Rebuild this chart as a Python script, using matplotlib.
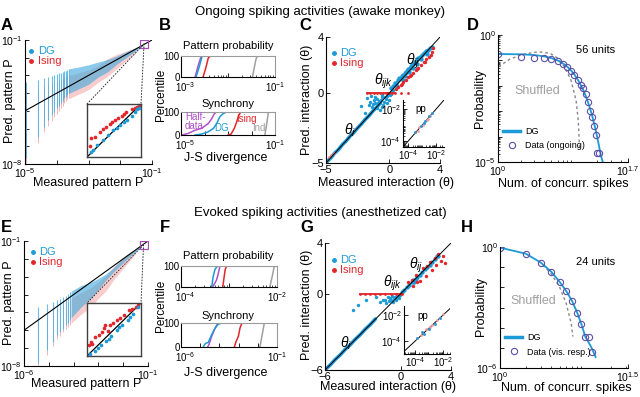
import numpy as np
import matplotlib
matplotlib.use('Agg')
import matplotlib.pyplot as plt
import matplotlib.transforms as mtransforms
from matplotlib.ticker import LogLocator, NullFormatter
from matplotlib.patches import ConnectionPatch

plt.rcParams['font.family'] = ['Liberation Sans', 'DejaVu Sans']
plt.rcParams['mathtext.default'] = 'regular'
plt.rcParams['xtick.direction'] = 'in'
plt.rcParams['ytick.direction'] = 'in'
plt.rcParams['axes.linewidth'] = 0.8

# colours
BLUE = '#1C9AD6'
RED = '#E3262B'
PURPLE = '#B150CA'
GREY = '#A0A0A0'
CIRC = '#5A50A8'
SQ = '#A64CB0'

# ---------------- A (ongoing, log10 values) ----------------
a_streak_x = [-4.98, -4.58, -4.40, -4.27, -4.16, -4.08, -4.00, -3.93, -3.87, -3.81, -3.76, -3.71, -3.67, -3.62]
a_streak_top = [-3.35, -3.26, -3.16, -3.07, -3.03, -2.98, -2.94, -2.88, -2.84, -2.81, -2.77, -2.73, -2.69, -2.65]
a_streak_bot = [-7.68, -6.46, -5.89, -5.52, -5.23, -5.05, -4.86, -4.73, -4.58, -4.43, -4.29, -4.20, -4.10, -4.01]
a_ising_top = [-3.9, -3.8, -3.6, -3.5, -3.4, -3.35, -3.3, -3.25, -3.2, -3.15, -3.1, -3.05, -3.0, -2.95]
a_ising_bot = [-7.95, -6.8, -6.2, -5.85, -5.55, -5.35, -5.15, -5.0, -4.85, -4.7, -4.55, -4.45, -4.35, -4.25]
a_cloud_x = [-3.6, -3.3, -3.0, -2.7, -2.4, -2.1, -1.8, -1.5, -1.3]
a_cloud_up = [-2.62, -2.52, -2.4, -2.25, -2.1, -1.9, -1.65, -1.42, -1.27]
a_cloud_lo = [-4.0, -3.75, -3.5, -3.1, -2.8, -2.35, -1.98, -1.6, -1.35]
a_icloud_x = [-3.6, -3.3, -3.0, -2.7, -2.4, -2.1, -1.8, -1.5]
a_icloud_up = [-3.0, -2.85, -2.7, -2.45, -2.05, -1.8, -1.62, -1.42]
a_icloud_lo = [-4.3, -4.05, -3.8, -3.4, -3.05, -2.6, -2.15, -1.7]
a_sq = (-1.25, -1.22)
# inset (normalised coordinates of zoomed region)
a_in_dg_x = [0.08, 0.18, 0.30, 0.39, 0.49, 0.61, 0.74, 0.83, 0.89, 0.96, 0.12, 0.55, 0.68, 0.93]
a_in_dg_y = [0.10, 0.23, 0.32, 0.41, 0.51, 0.60, 0.69, 0.78, 0.85, 0.93, 0.14, 0.55, 0.66, 0.90]
a_in_is_x = [0.05, 0.08, 0.14, 0.24, 0.35, 0.43, 0.51, 0.58, 0.64, 0.73, 0.83, 0.93, 0.98, 0.30, 0.47, 0.69, 0.88]
a_in_is_y = [0.20, 0.35, 0.38, 0.48, 0.57, 0.63, 0.69, 0.74, 0.78, 0.85, 0.91, 0.95, 0.99, 0.52, 0.66, 0.81, 0.93]

# ---------------- E (evoked, log10 values) ----------------
e_streak_x = [-5.45, -5.06, -4.83, -4.66, -4.53, -4.41, -4.32, -4.24, -4.16]
e_streak_top = [-4.71, -4.52, -4.43, -4.33, -4.24, -4.15, -4.06, -3.96, -3.87]
e_streak_bot = [-7.85, -7.11, -6.65, -6.28, -6.09, -5.91, -5.72, -5.57, -5.44]
e_ising_top = [-5.4, -5.1, -4.9, -4.8, -4.7, -4.6, -4.5, -4.4, -4.3]
e_ising_bot = [-8.0, -7.4, -6.9, -6.5, -6.3, -6.1, -5.95, -5.8, -5.7]
e_cloud_x = [-4.1, -3.7, -3.3, -3.0, -2.7, -2.4, -2.1, -1.8, -1.5, -1.3]
e_cloud_up = [-3.8, -3.5, -3.3, -3.1, -2.85, -2.5, -2.1, -1.75, -1.45, -1.27]
e_cloud_lo = [-5.3, -4.7, -4.2, -3.7, -3.2, -2.75, -2.35, -1.95, -1.6, -1.35]
e_icloud_x = [-4.1, -3.7, -3.3, -3.0, -2.7, -2.4, -2.1, -1.8, -1.5]
e_icloud_up = [-4.2, -3.9, -3.6, -3.3, -2.95, -2.45, -2.0, -1.7, -1.45]
e_icloud_lo = [-5.6, -5.1, -4.7, -4.2, -3.8, -3.2, -2.7, -2.2, -1.7]
e_sq = (-1.18, -1.22)
e_in_dg_x = [0.05, 0.15, 0.25, 0.35, 0.45, 0.55, 0.65, 0.75, 0.85, 0.95, 0.20, 0.40, 0.60, 0.80]
e_in_dg_y = [0.03, 0.10, 0.20, 0.28, 0.38, 0.50, 0.58, 0.68, 0.80, 0.92, 0.15, 0.33, 0.54, 0.74]
e_in_is_x = [0.03, 0.07, 0.15, 0.22, 0.28, 0.34, 0.38, 0.43, 0.49, 0.56, 0.62, 0.69, 0.77, 0.83, 0.90, 0.94, 0.10, 0.31]
e_in_is_y = [0.20, 0.26, 0.36, 0.39, 0.45, 0.58, 0.48, 0.59, 0.63, 0.67, 0.72, 0.77, 0.86, 0.89, 0.92, 0.97, 0.22, 0.52]

# ---------------- B / F: J-S divergence CDFs (log10 x, percentile y) ----------------
b_top = {
    'half': ([-2.70, -2.64, -2.57], [0, 50, 100]),
    'dg': ([-2.68, -2.61, -2.55], [0, 50, 100]),
    'ising': ([-2.53, -2.47, -2.42, -2.38], [0, 45, 90, 100]),
    'ind': ([-1.48, -1.41, -1.38], [0, 80, 100]),
}
b_bot = {
    'half': ([-4.97, -4.69, -4.40, -4.12, -3.84, -3.69, -3.58, -3.48], [0, 7, 21, 29, 50, 71, 93, 100]),
    'dg': ([-4.40, -4.12, -3.84, -3.62, -3.48, -3.35, -3.21, -3.06], [0, 4, 14, 29, 50, 79, 93, 100]),
    'ising': ([-2.99, -2.87, -2.73, -2.63, -2.56, -2.46], [0, 4, 29, 57, 81, 100]),
    'ind': ([-1.43, -1.35, -1.28], [0, 50, 100]),
}
f_top = {
    'dg': ([-3.36, -3.33, -3.29, -3.24, -3.19], [0, 50, 85, 100, 100]),
    'half': ([-3.34, -3.26, -3.22, -3.19, -3.17], [0, 33, 67, 100, 100]),
    'ising': ([-3.13, -3.10, -3.08, -3.05], [0, 50, 83, 100]),
    'ind': ([-2.15, -2.10, -2.06, -2.04], [0, 50, 95, 100]),
}
f_bot = {
    'dg': ([-4.84, -4.75, -4.66, -4.58, -4.40, -4.23, -4.06, -3.88, -3.71], [0, 13, 17, 19, 52, 78, 95, 100, 100]),
    'half': ([-4.61, -4.53, -4.40, -4.23, -4.11, -3.97], [0, 13, 45, 78, 95, 100]),
    'ising': ([-3.22, -3.15, -3.01, -2.93, -2.84, -2.81], [0, 19, 45, 78, 97, 100]),
    'ind': ([-1.89, -1.77, -1.66], [0, 52, 100]),
}

# ---------------- C (ongoing interactions) ----------------
c_i_x = [-4.95, -4.6, -4.3, -4.0, -3.7, -3.4, -3.1, -2.8, -2.5, -2.2, -1.9, -1.6, -1.3, -1.0, -0.7]
c_i_y = [-4.93, -4.62, -4.28, -4.03, -3.68, -3.42, -3.08, -2.82, -2.49, -2.21, -1.88, -1.62, -1.29, -1.02, -0.69]
c_i_is_x = [-4.8, -4.6, -4.4]
c_i_is_y = [-4.6, -4.45, -4.25]
c_ijk_x = [-1.73, -1.61, -1.49, -1.42, -1.37, -1.25, -1.13, -1.01, -0.89, -0.77, -0.70, -0.66, -0.61, -0.54, -0.42,
           -0.37, -0.30, -0.18, -0.08, -0.06, 0.06, 0.18, 0.30, -1.3, -0.95, -0.5, -0.25, -0.8, -1.1, -0.6, -0.15, 0.1,
           -2.2, -1.9]
c_ijk_y = [-0.38, -0.85, -0.62, -0.22, -0.97, -0.50, -0.26, -1.09, -0.74, -1.21, -0.69, -0.50, -0.14, -0.97, -0.62,
           -0.31, -0.26, -0.74, -0.03, -0.50, -0.14, 0.09, 0.21, -0.8, -0.4, -0.85, -0.45, -0.6, -0.7, -0.3, -0.2, -0.05,
           -0.9, -1.4]
c_ijk_is_x = [-1.75, -1.5, -1.25, -1.0, -0.75, -0.5, -0.25, 0.0, 0.2, 0.45]
c_ijk_is_y = [0, 0, 0, 0, 0, 0, 0, 0, 0, 0]
c_ijk_is_far_x = [0.9, 1.5]
c_ijk_is_far_y = [0, 0]
c_ij_x = [0.15, 0.3, 0.45, 0.55, 0.7, 0.8, 0.9, 1.0, 1.1, 1.2, 1.3, 1.4, 1.5, 1.6, 1.7, 1.8, 1.9, 2.0, 2.1, 2.2,
          2.3, 2.45, 2.6, 2.75, 2.9, 3.05, 3.2, 3.35, 1.25, 1.55, 1.85, 2.15, 0.6, 1.05, 2.5, 2.95]
c_ij_y = [0.35, 0.5, 0.7, 0.75, 0.95, 1.05, 1.1, 1.25, 1.3, 1.45, 1.5, 1.6, 1.75, 1.8, 1.95, 2.0, 2.1, 2.25, 2.3, 2.4,
          2.5, 2.6, 2.75, 2.85, 3.0, 3.1, 3.2, 3.3, 1.2, 1.5, 1.8, 2.05, 0.5, 0.95, 2.45, 2.8]
c_ij_is_x = [0.5, 0.7, 0.9, 1.1, 1.3, 1.5, 1.7, 1.9, 2.1, 2.3, 2.5, 2.7, 2.9, 3.1, 3.3, 3.4, 1.0, 1.6, 2.2, 2.8, 3.45]
c_ij_is_y = [0.3, 0.45, 0.6, 0.8, 0.95, 1.15, 1.3, 1.45, 1.65, 1.8, 2.0, 2.2, 2.4, 2.55, 2.75, 2.9, 0.65, 1.2, 1.7, 2.25, 3.2]
c_pp_x = [-3.5, -3.3, -3.1, -2.95, -2.8, -2.65, -2.5, -2.4, -2.3, -3.2, -2.9, -2.6]
c_pp_y = [-3.45, -3.35, -3.05, -3.0, -2.75, -2.7, -2.45, -2.45, -2.25, -3.15, -2.85, -2.6]

# ---------------- G (evoked interactions) ----------------
g_i_x = [-5.95, -5.6, -5.2, -4.8, -4.4, -4.0, -3.6, -3.2, -2.8, -2.4, -2.0]
g_i_y = [-5.93, -5.62, -5.18, -4.82, -4.38, -4.02, -3.58, -3.22, -2.78, -2.42, -1.98]
g_ijk_x = [-0.47, -0.34, -0.61, -0.21, -0.87, -1.13, -1.39, -1.66, -1.92, -0.08, -0.74, -1.0, -3.76, -3.37, -2.71,
           -0.4, -0.3, -0.55, -0.15, -0.9, -1.2, -0.65]
g_ijk_y = [-0.24, -0.50, -0.63, -0.19, -0.37, -0.76, -0.45, -0.63, -0.29, -0.08, -0.50, -0.24, -1.24, -0.9, -0.5,
           -0.4, -0.15, -0.35, -0.3, -0.6, -0.5, -0.2]
g_ijk_is_x = [-3.2, -2.8, -2.4, -2.0, -1.6, -1.2, -0.8, -0.4, 0.0, 0.1]
g_ijk_is_y = [0, 0, 0, 0, 0, 0, 0, 0, 0, 0]
g_ij_x = [0.1, 0.3, 0.5, 0.7, 0.9, 1.0, 1.1, 1.2, 1.3, 1.5, 1.7, 1.9, 2.1, 2.3, 2.5, 2.7, 2.9, 3.0, 1.05, 1.15]
g_ij_y = [0.15, 0.3, 0.55, 0.7, 0.95, 1.05, 1.0, 1.2, 1.3, 1.45, 1.7, 1.95, 2.1, 2.25, 2.5, 2.75, 2.95, 3.0, 0.95, 1.1]
g_ij_is_x = [0.6, 1.0, 1.2, 1.5, 1.8, 2.0, 2.3, 2.5, 2.8, 3.0, 3.2, 3.5, 1.3, 2.1, 2.7, 3.4, 0.9]
g_ij_is_y = [0.9, 0.6, 1.5, 1.0, 2.0, 1.4, 2.5, 1.9, 2.3, 3.1, 2.6, 2.4, 0.9, 2.2, 2.8, 3.0, 1.1]
g_pp_x = [-3.9, -3.6, -3.4, -3.2, -3.0, -2.8, -2.6, -2.4, -2.2, -2.0, -3.5, -2.9]
g_pp_y = [-3.75, -3.55, -3.45, -3.1, -3.05, -2.75, -2.65, -2.35, -2.2, -1.95, -3.3, -2.95]

# ---------------- D / H: synchrony distributions (log10 probability) ----------------
d_k = [1, 2, 3, 4, 5, 6, 7, 8, 9, 10, 11, 12, 13, 14, 15, 16, 17, 18, 19, 20, 21]
d_data = [-0.75, -0.855, -0.895, -0.92, -0.95, -1.04, -1.13, -1.25, -1.41, -1.58, -1.78, -1.95, -2.1, -2.33,
          -2.63, -2.99, -3.22, -3.59, -3.95, -4.65, -4.65]
d_dg_k = [1, 2, 3, 4, 5, 6, 7, 8, 9, 10, 11, 12, 13, 14, 15, 16, 17, 18, 19, 20, 21, 22, 23.4]
d_dg = [-0.75, -0.76, -0.79, -0.84, -0.91, -1.0, -1.11, -1.24, -1.39, -1.56, -1.75, -1.95, -2.16, -2.39,
        -2.64, -2.9, -3.17, -3.46, -3.76, -4.07, -4.39, -4.7, -5.0]
d_shuf_k = [1.02, 1.41, 2.08, 3.4, 4.79, 6.1, 7.4, 9.0, 10.5, 11.2, 11.7]
d_shuf = [-1.25, -0.96, -0.76, -0.66, -0.72, -0.92, -1.25, -1.78, -2.57, -3.36, -4.54]

h_k = [1, 2, 3, 4, 5, 6, 7, 8, 9, 10, 11, 12]
h_data = [-0.03, -0.33, -0.77, -1.23, -1.73, -2.19, -2.68, -3.26, -3.83, -4.47, -4.47, -5.23]
h_dg_k = [1, 2, 3, 4, 5, 6, 7, 8, 9, 10, 11, 12, 13.2]
h_dg = [-0.03, -0.33, -0.77, -1.23, -1.73, -2.19, -2.68, -3.24, -3.83, -4.45, -4.75, -5.05, -5.46]
h_shuf_k = [3.17, 3.97, 4.98, 5.97, 6.83, 7.14]
h_shuf = [-0.9, -1.32, -1.97, -2.8, -3.78, -4.44]

# ================= figure =================
W, H = 640, 397
fig = plt.figure(figsize=(6.4, 3.97), dpi=100)
TFS = 7.5  # tick label size


def box(l, t, r, b):
    return fig.add_axes([l / W, 1 - b / H, (r - l) / W, (b - t) / H])


def txt(x, y, s, **kw):
    kw.setdefault('ha', 'center')
    kw.setdefault('va', 'center')
    kw.setdefault('fontsize', 9)
    fig.text(x / W, 1 - y / H, s, **kw)


def p10(v):
    return 10 ** np.asarray(v, dtype=float)


def log_ticks(axis, lo, hi, labels):
    dec = list(range(lo, hi + 1))
    axis.set_ticks([10.0 ** d for d in dec])
    axis.set_ticklabels(labels)
    axis.set_minor_locator(LogLocator(base=10, subs=np.arange(2, 10)))
    axis.set_minor_formatter(NullFormatter())


def style(ax, fs=TFS):
    ax.tick_params(which='major', length=3, width=0.6, labelsize=fs, pad=1.5)
    ax.tick_params(which='minor', length=1.6, width=0.5)


def pattern_panel(ax, xlo, sx, stop, sbot, itop, ibot, cx, cu, cl, ix, iu, il, sq):
    ax.set_xscale('log')
    ax.set_yscale('log')
    ax.vlines(p10(sx), p10(ibot), p10(itop), color='#F4A3A6', lw=0.7, alpha=0.8)
    ax.vlines(p10(sx), p10(sbot), p10(stop), color='#48AEDF', lw=0.8, alpha=0.8)
    ax.fill_between(p10(ix), p10(il), p10(iu), color='#F08E92', alpha=0.45, lw=0)
    ax.fill_between(p10(cx), p10(cl), p10(cu), color='#3EA8DC', alpha=0.6, lw=0)
    ax.plot([10.0 ** xlo, 0.1], [10.0 ** xlo, 0.1], color='k', lw=0.8)
    ax.plot([10.0 ** sq[0]], [10.0 ** sq[1]], marker='s', ms=5.5, mfc='none', mec=SQ, mew=0.9)
    ax.set_xlim(10.0 ** xlo, 0.1)
    ax.set_ylim(1e-8, 0.1)
    log_ticks(ax.xaxis, xlo, -1, ['$10^{%d}$' % xlo] + [''] * (-1 - xlo - 1) + ['$10^{-1}$'])
    log_ticks(ax.yaxis, -8, -1, ['$10^{-8}$'] + [''] * 6 + ['$10^{-1}$'])
    ax.spines['top'].set_visible(False)
    ax.spines['right'].set_visible(False)
    style(ax)


def pattern_inset(axin, ax_main, sq, dx, dy, ix, iy):
    axin.set_xlim(0, 1)
    axin.set_ylim(0, 1)
    axin.set_xticks([])
    axin.set_yticks([])
    for s in axin.spines.values():
        s.set_color('#404040')
        s.set_linewidth(1.0)
    axin.plot([0, 1], [0, 1], color='k', lw=0.9, zorder=1)
    axin.scatter(ix, iy, s=7, color=RED, lw=0, zorder=2)
    axin.scatter(dx, dy, s=7, color=BLUE, lw=0, zorder=3)
    for xa in (0, 1):
        con = ConnectionPatch(xyA=(10.0 ** sq[0], 10.0 ** sq[1]), coordsA=ax_main.transData,
                              xyB=(xa, 1), coordsB=axin.transAxes, ls=(0, (1, 2)), color='#333333', lw=0.7)
        fig.add_artist(con)


def legend_dots(ax, x, y1, y2):
    ax.plot([x], [y1], 'o', ms=2.5, color=BLUE, transform=ax.transAxes)
    ax.plot([x], [y2], 'o', ms=2.5, color=RED, transform=ax.transAxes)
    ax.text(x + 0.05, y1, 'DG', color=BLUE, fontsize=8, va='center', transform=ax.transAxes)
    ax.text(x + 0.05, y2, 'Ising', color=RED, fontsize=8, va='center', transform=ax.transAxes)


# ---- A ----
axA = box(25, 40, 152, 164)
pattern_panel(axA, -5, a_streak_x, a_streak_top, a_streak_bot, a_ising_top, a_ising_bot,
              a_cloud_x, a_cloud_up, a_cloud_lo, a_icloud_x, a_icloud_up, a_icloud_lo, a_sq)
legend_dots(axA, 0.05, 0.91, 0.83)
axAi = box(87, 104, 141, 157)
pattern_inset(axAi, axA, a_sq, a_in_dg_x, a_in_dg_y, a_in_is_x, a_in_is_y)

# ---- E ----
axE = box(24, 241, 148, 366)
pattern_panel(axE, -6, e_streak_x, e_streak_top, e_streak_bot, e_ising_top, e_ising_bot,
              e_cloud_x, e_cloud_up, e_cloud_lo, e_icloud_x, e_icloud_up, e_icloud_lo, e_sq)
legend_dots(axE, 0.07, 0.91, 0.83)
axEi = box(87, 303, 141, 356)
pattern_inset(axEi, axE, e_sq, e_in_dg_x, e_in_dg_y, e_in_is_x, e_in_is_y)


# ---- B / F ----
def cdf_panel(ax, data, lo, hi):
    ax.set_xscale('log')
    cols = {'half': PURPLE, 'dg': BLUE, 'ising': RED, 'ind': GREY}
    for key in ['ind', 'ising', 'half', 'dg']:
        xs, ys = data[key]
        ax.plot(p10(xs), ys, color=cols[key], lw=1.1)
    ax.set_xlim(10.0 ** lo, 10.0 ** hi)
    ax.set_ylim(0, 100)
    ax.set_yticks([0, 100])
    log_ticks(ax.xaxis, lo, hi, ['$10^{%d}$' % lo] + [''] * (hi - lo - 1) + ['$10^{%d}$' % hi])
    for s in ('top', 'right'):
        ax.spines[s].set_color('#9A9A9A')
    style(ax, 7)
    ax.tick_params(axis='y', pad=1)
    ax.tick_params(axis='x', pad=2.5)
    # the first exponent label sits a little to the right of its tick
    shift = mtransforms.ScaledTranslation(4 / 100, 0, fig.dpi_scale_trans)
    first = ax.xaxis.get_majorticklabels()[0]
    first.set_transform(first.get_transform() + shift)


axB1 = box(181, 56, 275, 77)
cdf_panel(axB1, b_top, -3, -1)
axB2 = box(181, 112, 275, 135)
cdf_panel(axB2, b_bot, -5, -1)
txt(196, 117, 'Half-', color=PURPLE, fontsize=7)
txt(194, 126, 'data', color=PURPLE, fontsize=7)
txt(222, 128, 'DG', color=BLUE, fontsize=7)
txt(246, 119, 'Ising', color=RED, fontsize=7)
txt(259, 128, 'Ind', color=GREY, fontsize=7)

axF1 = box(181, 266, 277, 287)
cdf_panel(axF1, f_top, -4, -2)
axF2 = box(181, 323, 277, 347)
cdf_panel(axF2, f_bot, -6, -1)


# ---- C / G ----
def inter_panel(ax, lo, hi, i_x, i_y, ijk_x, ijk_y, ijkis_x, ijkis_y, ij_x, ij_y, ijis_x, ijis_y):
    ax.plot(i_x, i_y, color=BLUE, lw=2.6, solid_capstyle='round', zorder=2)
    ax.plot(ijkis_x, ijkis_y, color=RED, lw=1.3, zorder=3)
    ax.scatter(ijkis_x, ijkis_y, s=4, color=RED, lw=0, zorder=3)
    ax.scatter(ijk_x, ijk_y, s=6, color=BLUE, lw=0, zorder=2)
    ax.scatter(ij_x, ij_y, s=10, color=BLUE, lw=0, zorder=2)
    ax.scatter(ijis_x, ijis_y, s=6, color=RED, lw=0, zorder=3)
    ax.plot([lo, hi], [lo, hi], color='k', lw=0.7, zorder=4)
    ax.set_xlim(lo, hi)
    ax.set_ylim(lo, hi)
    ax.set_xticks([lo, 0, hi])
    ax.set_yticks([lo, 0, hi])
    ax.spines['top'].set_visible(False)
    ax.spines['right'].set_visible(False)
    ax.patch.set_alpha(0)
    style(ax, 8)


def pp_inset(axi, xl, yl, px, py):
    axi.set_xscale('log')
    axi.set_yscale('log')
    axi.plot(p10([-6, 0]), p10([-6, 0]), color='k', lw=0.7, zorder=1)
    axi.scatter(p10(px), p10(py), s=4, color='#F09DA5', lw=0, zorder=2)
    axi.scatter(p10(px[::2]), p10(py[::2]), s=4, color=BLUE, lw=0, zorder=3)
    axi.set_xlim(p10(xl))
    axi.set_ylim(p10(yl))
    axi.set_xticks([1e-4, 1e-2])
    axi.set_xticklabels(['$10^{-4}$', '$10^{-2}$'])
    axi.set_yticks([1e-4, 1e-2])
    axi.set_yticklabels(['$10^{-4}$', '$10^{-2}$'])
    axi.xaxis.set_minor_locator(LogLocator(base=10, subs=np.arange(2, 10)))
    axi.yaxis.set_minor_locator(LogLocator(base=10, subs=np.arange(2, 10)))
    axi.xaxis.set_minor_formatter(NullFormatter())
    axi.yaxis.set_minor_formatter(NullFormatter())
    axi.spines['top'].set_visible(False)
    axi.spines['right'].set_visible(False)
    axi.patch.set_alpha(0)
    style(axi, 7)
    axi.tick_params(axis='x', pad=1)
    axi.text(0.3, 0.8, 'pp', fontsize=7, transform=axi.transAxes, va='center')


axC = box(326, 37, 440, 163)
inter_panel(axC, -5, 4, c_i_x, c_i_y, c_ijk_x, c_ijk_y, c_ijk_is_x, c_ijk_is_y,
            c_ij_x, c_ij_y, c_ij_is_x, c_ij_is_y)
axC.scatter(c_i_is_x, c_i_is_y, s=4, color='#F07A80', lw=0, zorder=3)
axC.scatter(c_ijk_is_far_x, c_ijk_is_far_y, s=4, color=RED, lw=0, zorder=3)
legend_dots(axC, 0.07, 0.87, 0.79)
axC.text(-3.6, -3.0, r'$\theta_i$', fontsize=10, style='italic')
axC.text(-1.25, 0.6, r'$\theta_{ijk}$', fontsize=10, style='italic')
axC.text(1.3, 2.0, r'$\theta_{ij}$', fontsize=10, style='italic')
axCi = box(403, 100, 444, 147)
pp_inset(axCi, (-4.4, -1.4), (-4.4, -1.4), c_pp_x, c_pp_y)

axG = box(325, 243, 451, 370)
inter_panel(axG, -6, 4, g_i_x, g_i_y, g_ijk_x, g_ijk_y, g_ijk_is_x, g_ijk_is_y,
            g_ij_x, g_ij_y, g_ij_is_x, g_ij_is_y)
legend_dots(axG, 0.07, 0.87, 0.79)
axG.text(-4.8, -4.2, r'$\theta_i$', fontsize=10, style='italic')
axG.text(-1.4, 0.55, r'$\theta_{ijk}$', fontsize=10, style='italic')
axG.text(0.7, 2.0, r'$\theta_{ij}$', fontsize=10, style='italic')
axGi = box(404, 306, 450, 354)
pp_inset(axGi, (-4.8, -1.5), (-5.0, -1.3), g_pp_x, g_pp_y)


# ---- D / H ----
def sync_panel(ax, xmax, ymin, k, dat, dgk, dg, sk, sh, units, lab, xmax_lab):
    ax.set_xscale('log')
    ax.set_yscale('log')
    ax.plot(sk, p10(sh), ls=(0, (2, 2)), color='#888888', lw=1.0)
    ax.plot(dgk, p10(dg), color=BLUE, lw=1.3, label='DG')
    ax.plot(k, p10(dat), 'o', ms=4.5, mfc='none', mec=CIRC, mew=0.8, label=lab)
    ax.set_xlim(1, 10 ** xmax)
    ax.set_ylim(10.0 ** ymin, 1)
    ax.set_xticks([1, 10 ** xmax])
    ax.set_xticklabels(['$10^{0}$', xmax_lab])
    ax.xaxis.set_minor_locator(LogLocator(base=10, subs=np.arange(2, 10)))
    ax.xaxis.set_minor_formatter(NullFormatter())
    log_ticks(ax.yaxis, ymin, 0, ['$10^{%d}$' % ymin] + [''] * (-ymin - 1) + ['$10^{0}$'])
    ax.spines['top'].set_visible(False)
    ax.spines['right'].set_visible(False)
    style(ax)
    ax.text(0.75, 0.88, units, fontsize=8, transform=ax.transAxes, ha='center', va='center')
    leg = ax.legend(loc='lower left', bbox_to_anchor=(0.0, 0.05), frameon=False, fontsize=6.5,
                    handlelength=1.8, handletextpad=0.6, labelspacing=0.6, borderaxespad=0.2)
    leg.get_lines()[0].set_linewidth(2.5)


axD = box(498, 35, 628, 162)
sync_panel(axD, 1.7, -5, d_k, d_data, d_dg_k, d_dg, d_shuf_k, d_shuf, '56 units', 'Data (ongoing)', '$10^{1.7}$')
axD.text(0.3, 0.56, 'Shuffled', fontsize=9, color=GREY, transform=axD.transAxes, ha='center', va='center')

axH = box(500, 247, 628, 368)
sync_panel(axH, 1.5, -6, h_k, h_data, h_dg_k, h_dg, h_shuf_k, h_shuf, '24 units', 'Data (vis. resp.)', '$10^{1.5}$')
axH.text(0.26, 0.55, 'Shuffled', fontsize=9, color=GREY, transform=axH.transAxes, ha='center', va='center')

# ---- text ----
txt(320, 12, 'Ongoing spiking activities (awake monkey)', fontsize=9.5)
txt(320, 213, 'Evoked spiking activities (anesthetized cat)', fontsize=9.5)
for s, x, y in [('A', 7, 26), ('B', 165, 26), ('C', 305, 26), ('D', 473, 26),
                ('E', 6, 227), ('F', 165, 227), ('G', 307, 227), ('H', 467, 227)]:
    txt(x, y, s, fontsize=12, fontweight='bold')

txt(88, 183, 'Measured pattern P')
txt(10, 101, 'Pred. pattern P', rotation=90)
txt(86, 384, 'Measured pattern P')
txt(9, 303, 'Pred. pattern P', rotation=90)

txt(228, 46, 'Pattern probability', fontsize=8)
txt(228, 104, 'Synchrony', fontsize=8)
txt(161, 95, 'Percentile', rotation=90, fontsize=8.5)
txt(226, 158, 'J-S divergence')
txt(228, 256, 'Pattern probability', fontsize=8)
txt(228, 316, 'Synchrony', fontsize=8)
txt(161, 306, 'Percentile', rotation=90, fontsize=8.5)
txt(226, 373, 'J-S divergence')

txt(386, 183, 'Measured interaction (θ)')
txt(307, 100, 'Pred. interaction (θ)', rotation=90)
txt(388, 387, 'Measured interaction (θ)')
txt(307, 305, 'Pred. interaction (θ)', rotation=90)

txt(563, 184, 'Num. of concurr. spikes')
txt(480, 98, 'Probability', rotation=90)
txt(566, 388, 'Num. of concurr. spikes')
txt(481, 306, 'Probability', rotation=90)

fig.savefig('out.png', dpi=100)
